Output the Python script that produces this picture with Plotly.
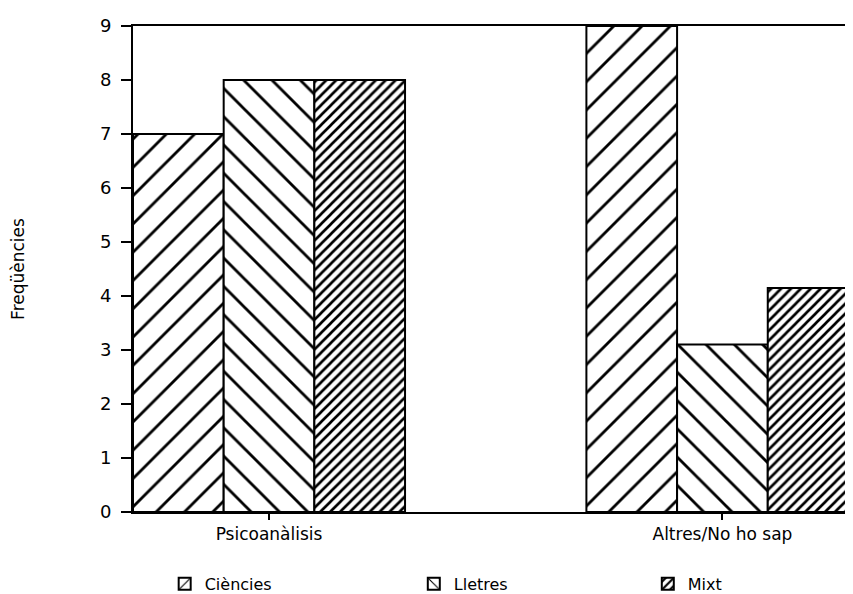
import plotly.graph_objects as go

categories = ["Psicoanàlisis", "Altres/No ho sap"]
ciencies = [7, 9]
lletres = [8, 3.1]
mixt = [8, 4.15]
y_tick_values = [0, 1, 2, 3, 4, 5, 6, 7, 8, 9]
y_title = "Freqüències"

FONT = "DejaVu Sans"

styles = [
    ("Ciències", ciencies, dict(shape="/", size=20, solidity=0.14), "legend", 0.044),
    ("Lletres", lletres, dict(shape="\\", size=20, solidity=0.14), "legend2", 0.390),
    ("Mixt", mixt, dict(shape="/", size=7, solidity=0.38), "legend3", 0.715),
]

fig = go.Figure()
legend_layout = {}
for name, vals, pat, leg, lx in styles:
    fig.add_trace(go.Bar(
        x=categories, y=vals, name=name, legend=leg,
        marker=dict(color="white",
                    line=dict(color="black", width=2),
                    pattern=dict(fgcolor="black", bgcolor="white", fillmode="replace", **pat)),
    ))
    legend_layout[leg] = dict(x=lx, xanchor="left", y=-0.148, yanchor="middle",
                              orientation="h", bgcolor="rgba(0,0,0,0)",
                              font=dict(size=16, family=FONT, color="black"))

fig.update_layout(
    width=845, height=594,
    paper_bgcolor="white", plot_bgcolor="white",
    margin=dict(l=125, r=0, t=18, b=90),
    barmode="group", bargap=0.4, bargroupgap=0,
    font=dict(family=FONT, color="black"),
    showlegend=True,
    xaxis=dict(type="category", range=[-0.3, 1.288],
               showline=True, linecolor="black", linewidth=2, mirror=True,
               ticks="outside", ticklen=6, tickwidth=1.5, tickcolor="black",
               showgrid=False, zeroline=False,
               tickfont=dict(size=17, family=FONT)),
    yaxis=dict(range=[0, 9], tickvals=y_tick_values,
               showline=True, linecolor="black", linewidth=2,
               ticks="outside", ticklen=10, tickwidth=2, tickcolor="black",
               ticklabelstandoff=6,
               showgrid=False, zeroline=False,
               tickfont=dict(size=18, family=FONT),
               title=dict(text=y_title, font=dict(size=17, family=FONT), standoff=80)),
    **legend_layout,
)

fig.write_html("out.html")
